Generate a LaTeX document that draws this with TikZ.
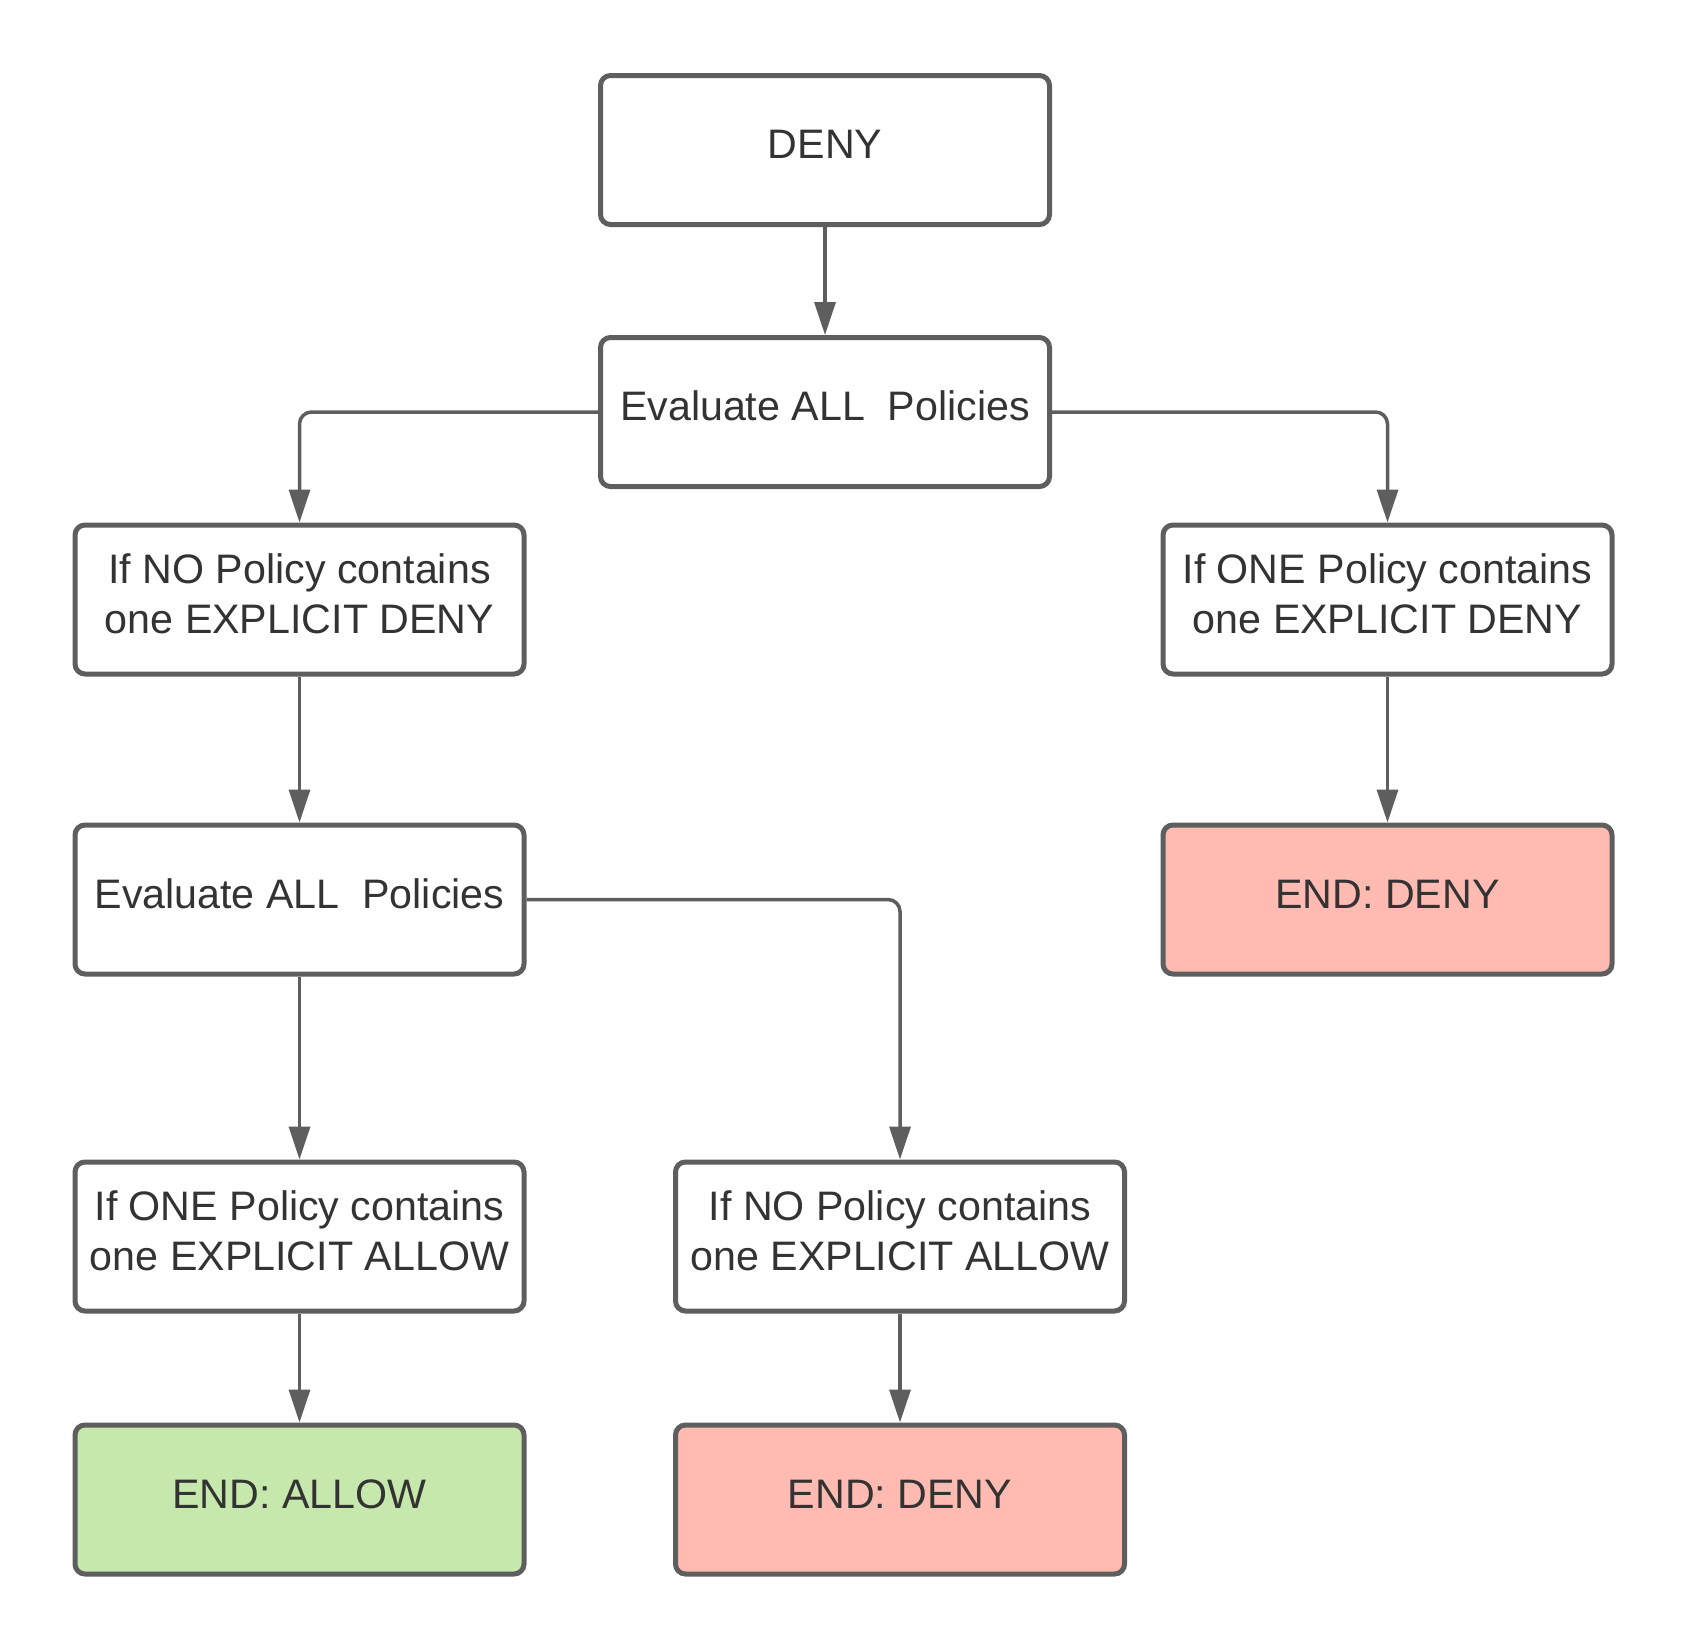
\documentclass[tikz,border=0pt]{standalone}
\usepackage{fontspec}
\setmainfont{Liberation Sans}
\usetikzlibrary{arrows.meta}
\definecolor{edgegray}{HTML}{5E5E5E}
\definecolor{textgray}{HTML}{333333}
\definecolor{allowgreen}{HTML}{C7E8AC}
\definecolor{denyred}{HTML}{FFBBB1}
\tikzset{
  box/.style={draw=edgegray, line width=5pt, rounded corners=10pt, fill=white,
    minimum width=449pt, minimum height=149pt, inner sep=0pt, align=center,
    text=textgray, font=\fontsize{41.2}{50}\selectfont},
  oneline/.style={text height=29pt, text depth=12pt},
  twoline/.style={text height=79.6pt, text depth=12pt},
  allowbox/.style={box, fill=allowgreen},
  denybox/.style={box, fill=denyred},
  conn/.style={draw=edgegray, line width=3.5pt, rounded corners=12pt,
    -{Triangle[length=33pt, width=21pt]}},
}
\begin{document}
\begin{tikzpicture}[x=1pt, y=-1pt]
\useasboundingbox[fill=white] (0,0) rectangle (1688,1650);
\node[box, oneline] (deny) at (825,150) {DENY};
\node[box, oneline] (eval1) at (825,412) {Evaluate ALL\ \ Policies};
\node[box, twoline] (nodeny) at (299.5,599.5) {If NO Policy contains\\one EXPLICIT DENY};
\node[box, twoline] (onedeny) at (1387.5,599.5) {If ONE Policy contains\\one EXPLICIT DENY};
\node[box, oneline] (eval2) at (299.5,899.5) {Evaluate ALL\ \ Policies};
\node[denybox, oneline] (enddenyr) at (1387.5,899.5) {END: DENY};
\node[box, twoline] (oneallow) at (299.5,1236.5) {If ONE Policy contains\\one EXPLICIT ALLOW};
\node[box, twoline] (noallow) at (900,1236.5) {If NO Policy contains\\one EXPLICIT ALLOW};
\node[allowbox, oneline] (endallow) at (299.5,1499.5) {END: ALLOW};
\node[denybox, oneline] (enddenyb) at (900,1499.5) {END: DENY};

\draw[conn] (deny) -- (eval1);
\draw[conn] (eval1.west) -| (nodeny.north);
\draw[conn] (eval1.east) -| (onedeny.north);
\draw[conn] (nodeny) -- (eval2);
\draw[conn] (onedeny) -- (enddenyr);
\draw[conn] (eval2) -- (oneallow);
\draw[conn] (eval2.east) -| (noallow.north);
\draw[conn] (oneallow) -- (endallow);
\draw[conn] (noallow) -- (enddenyb);
\end{tikzpicture}
\end{document}
